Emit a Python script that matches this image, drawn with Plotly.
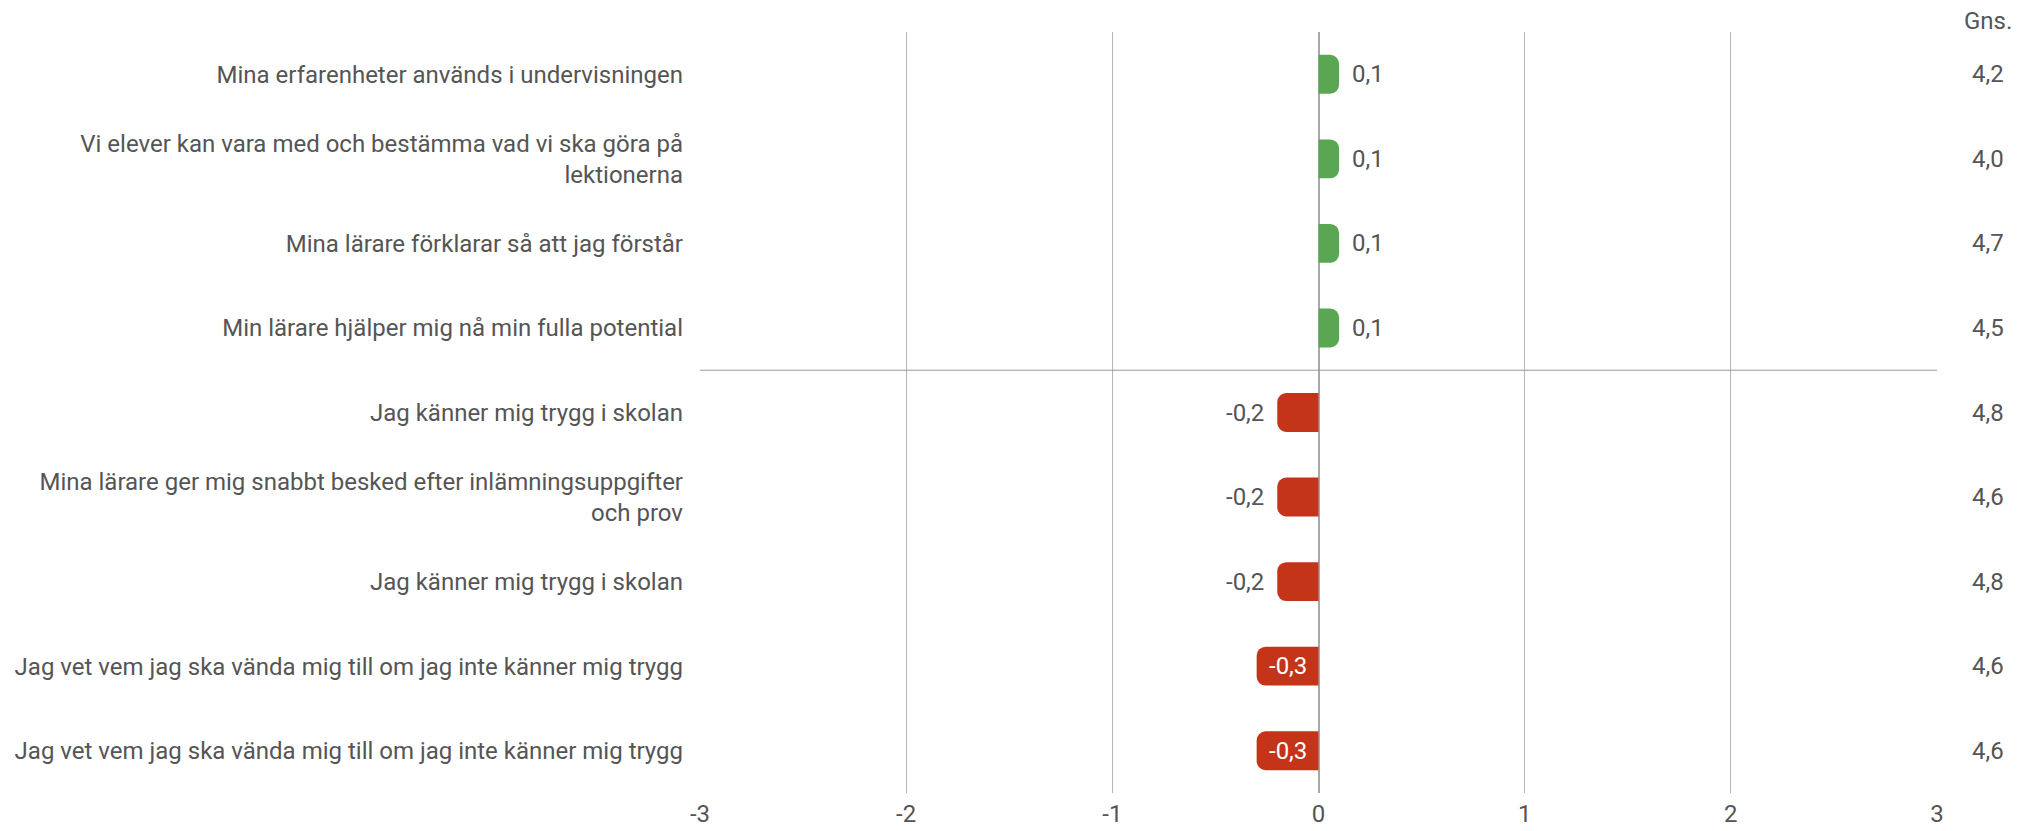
import plotly.graph_objects as go

categories = [
    "Mina erfarenheter används i undervisningen",
    "Vi elever kan vara med och bestämma vad vi ska göra på<br>lektionerna",
    "Mina lärare förklarar så att jag förstår",
    "Min lärare hjälper mig nå min fulla potential",
    "Jag känner mig trygg i skolan",
    "Mina lärare ger mig snabbt besked efter inlämningsuppgifter<br>och prov",
    "Jag känner mig trygg i skolan",
    "Jag vet vem jag ska vända mig till om jag inte känner mig trygg",
    "Jag vet vem jag ska vända mig till om jag inte känner mig trygg",
]
diff_values = [0.1, 0.1, 0.1, 0.1, -0.2, -0.2, -0.2, -0.3, -0.3]
avg_values = [4.2, 4.0, 4.7, 4.5, 4.8, 4.6, 4.8, 4.6, 4.6]
x_ticks = [-3, -2, -1, 0, 1, 2, 3]

GREEN = "#5BA653"
RED = "#C43418"
TXT = "#555555"
FONT = "Roboto"
FS = 24

def fmt(v):
    return f"{v:.1f}".replace(".", ",")

ys = list(range(len(categories)))
colors = [GREEN if v >= 0 else RED for v in diff_values]

fig = go.Figure()
fig.add_trace(go.Bar(
    x=diff_values, y=ys, orientation="h",
    marker=dict(color=colors, cornerradius=9, line=dict(width=0)),
    width=0.46, hoverinfo="skip",
))

annotations = []
for y, v in zip(ys, diff_values):
    inside = abs(v) >= 0.25
    if inside:
        annotations.append(dict(x=v / 2, y=y, xref="x", yref="y", text=fmt(v),
                                showarrow=False, xanchor="center", yanchor="middle",
                                font=dict(family=FONT, size=FS, color="white")))
    else:
        annotations.append(dict(x=v, y=y, xref="x", yref="y", text=fmt(v),
                                showarrow=False,
                                xanchor="left" if v >= 0 else "right",
                                xshift=11 if v >= 0 else -11, yanchor="middle",
                                font=dict(family=FONT, size=FS, color=TXT)))
for y, a in zip(ys, avg_values):
    annotations.append(dict(x=1, y=y, xref="paper", yref="y", text=fmt(a),
                            showarrow=False, xanchor="center", yanchor="middle",
                            xshift=51, font=dict(family=FONT, size=FS, color=TXT)))
annotations.append(dict(x=1, y=1, xref="paper", yref="paper", text="Gns.",
                        showarrow=False, xanchor="center", yanchor="middle",
                        xshift=51, yshift=11, font=dict(family=FONT, size=FS, color=TXT)))

n_pos = sum(1 for v in diff_values if v >= 0)
fig.add_shape(type="line", x0=x_ticks[0], x1=x_ticks[-1], y0=n_pos - 0.5, y1=n_pos - 0.5,
              xref="x", yref="y", line=dict(color="#999999", width=1))

fig.update_layout(
    width=2031, height=831,
    margin=dict(l=700, r=94, t=32, b=38, autoexpand=False),
    paper_bgcolor="white", plot_bgcolor="white",
    showlegend=False,
    font=dict(family=FONT, size=FS, color=TXT),
    annotations=annotations,
    xaxis=dict(range=[x_ticks[0], x_ticks[-1]], tickvals=x_ticks,
               ticktext=[str(t) for t in x_ticks], automargin=False,
               showgrid=True, gridcolor="#B5B5B5", gridwidth=1,
               zeroline=True, zerolinecolor="#A8A8A8", zerolinewidth=2,
               showline=False, ticks="", ticklabelstandoff=4,
               tickfont=dict(family=FONT, size=FS, color=TXT),
               fixedrange=True),
    yaxis=dict(range=[len(categories) - 0.5, -0.5], tickvals=ys, ticktext=categories,
               showgrid=False, zeroline=False, showline=False, ticks="",
               ticklabelstandoff=16, automargin=False,
               tickfont=dict(family=FONT, size=FS, color=TXT), fixedrange=True),
)

fig.write_html("out.html", config={"displayModeBar": False},
               post_script="document.body.style.margin='0';document.body.style.overflow='hidden';")
